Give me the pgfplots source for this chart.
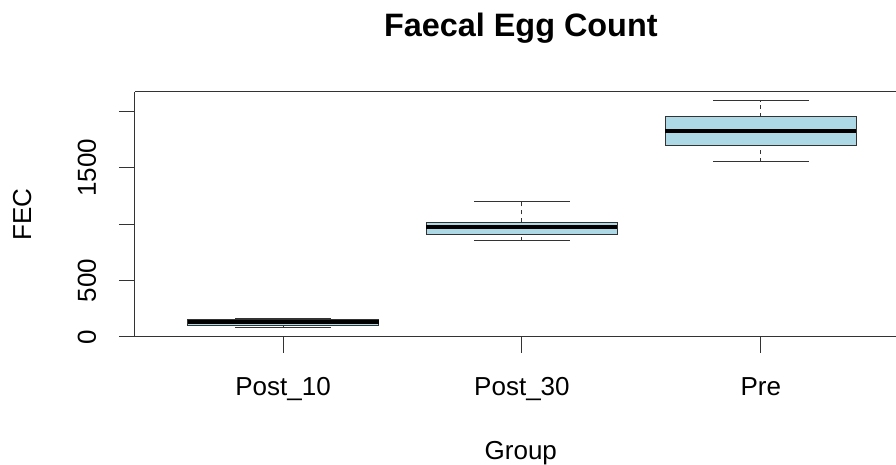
\documentclass[border=0pt]{standalone}
\usepackage{pgfplots}
\pgfplotsset{compat=1.18}
\usepackage{fontspec}
\setmainfont{Liberation Sans}
\definecolor{lightblueR}{HTML}{ADD8E6}
\definecolor{lineR}{HTML}{333333}
\pgfplotsset{
  whisk/.style={lineR, line width=0.5pt, dash pattern=on 2pt off 2pt, mark=none, forget plot},
  staple/.style={lineR, line width=0.5pt, mark=none, forget plot},
  boxs/.style={fill=lightblueR, draw=lineR, line width=0.5pt, mark=none, forget plot},
  med/.style={black, line width=2.2pt, mark=none, forget plot},
}
\begin{document}
\begin{tikzpicture}
\useasboundingbox (-67.5pt,-64pt) rectangle (380.5pt,168.5pt);
\begin{axis}[
  at={(0,0)}, anchor=south west,
  scale only axis, width=380.5pt, height=122.5pt,
  xmin=0.38, xmax=3.566, ymin=0, ymax=2169,
  axis x line=box, axis y line=left,
  axis line style={-, lineR, line width=0.5pt},
  xtick={1,2,3}, xticklabels={Post\_10,Post\_30,Pre},
  ytick={0,500,1000,1500,2000}, yticklabels={0,500,,1500,},
  xtick pos=left, ytick pos=left,
  tick align=outside, major tick length=8pt,
  tick style={lineR, line width=0.5pt},
  /pgf/number format/assume math mode=true,
  ticklabel style={font=\fontsize{13}{15}\selectfont, text=black},
  xticklabel style={anchor=base, yshift=-21pt},
  yticklabel style={rotate=90, anchor=base, yshift=11.5pt},
  title={\textbf{Faecal Egg Count}},
  title style={at={(0.507,1)}, anchor=base, yshift=21.5pt, font=\fontsize{16.2}{19}\selectfont},
  xlabel={Group}, ylabel={FEC},
  xlabel style={at={(axis description cs:0.507,-0.502)}, anchor=base, font=\fontsize{13}{15}\selectfont},
  ylabel style={at={(axis description cs:-0.1366,0.5)}, anchor=base, font=\fontsize{13}{15}\selectfont},
]
% whiskers (dashed) and staples
\addplot[whisk] coordinates {(1,83) (1,100)};
\addplot[whisk] coordinates {(1,152) (1,163)};
\addplot[staple] coordinates {(0.8,83) (1.2,83)};
\addplot[staple] coordinates {(0.8,163) (1.2,163)};
\addplot[whisk] coordinates {(2,854) (2,907)};
\addplot[whisk] coordinates {(2,1014) (2,1196)};
\addplot[staple] coordinates {(1.8,854) (2.2,854)};
\addplot[staple] coordinates {(1.8,1196) (2.2,1196)};
\addplot[whisk] coordinates {(3,1551) (3,1699)};
\addplot[whisk] coordinates {(3,1950) (3,2092)};
\addplot[staple] coordinates {(2.8,1551) (3.2,1551)};
\addplot[staple] coordinates {(2.8,2092) (3.2,2092)};
% boxes (Q1 to Q3)
\addplot[boxs] coordinates {(0.6,100) (1.4,100) (1.4,152) (0.6,152)} --cycle;
\addplot[boxs] coordinates {(1.6,907) (2.4,907) (2.4,1014) (1.6,1014)} --cycle;
\addplot[boxs] coordinates {(2.6,1699) (3.4,1699) (3.4,1950) (2.6,1950)} --cycle;
% medians
\addplot[med] coordinates {(0.6,132) (1.4,132)};
\addplot[med] coordinates {(1.6,975) (2.4,975)};
\addplot[med] coordinates {(2.6,1826) (3.4,1826)};
\end{axis}
\end{tikzpicture}
\end{document}
